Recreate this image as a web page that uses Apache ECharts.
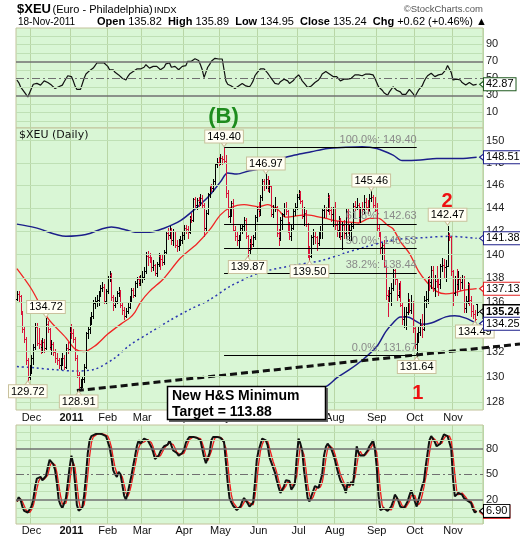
<!DOCTYPE html>
<html><head><meta charset="utf-8">
<script src="https://cdn.jsdelivr.net/npm/echarts@6/dist/echarts.min.js"></script>
<style>html,body{margin:0;padding:0;background:#fff}#c{width:520px;height:540px}</style>
</head><body><div id="c"></div>
<script>
// ---------- data ----------
const holidays = ['2010-11-25','2010-12-24','2011-01-17','2011-02-21','2011-04-22','2011-05-30','2011-07-04','2011-09-05'];
const monthNames = ['Jan','Feb','Mar','Apr','May','Jun','Jul','Aug','Sep','Oct','Nov','Dec'];
// daily [open, high, low, close], 18-Nov-2010 .. 18-Nov-2011
const ohlc = [
[136.3,136.9,136.2,136.7],[136.7,136.9,136.1,136.5],[136.5,136.6,135.0,135.2],[135.2,135.3,133.6,133.8],[133.8,134.0,132.8,133.0],
[133.0,133.2,131.0,131.3],[131.3,131.5,129.72,130.0],[130.0,130.9,129.8,130.6],[130.6,131.7,130.3,131.5],[131.5,132.6,131.0,132.4],
[132.4,134.3,132.2,134.0],[134.0,134.3,132.5,132.7],[132.7,133.9,132.3,132.6],[132.6,132.9,131.9,132.4],[132.4,133.1,132.0,132.8],
[132.8,133.0,132.0,132.3],[132.3,134.72,132.2,134.2],[134.2,134.5,133.6,133.8],[133.8,133.9,132.2,132.4],[132.4,132.9,131.8,132.6],
[132.6,132.8,131.7,132.0],[132.0,132.2,131.2,131.5],[131.5,131.9,131.0,131.3],[131.3,131.5,130.7,130.9],[130.9,131.5,130.6,131.2],
[131.2,131.9,130.9,131.5],[131.5,131.7,130.6,130.8],[130.8,132.6,130.7,132.3],[132.3,132.8,131.9,132.2],[132.2,134.0,132.1,133.8],
[133.6,134.2,133.1,133.5],[133.5,133.8,132.8,133.0],[133.0,133.2,131.3,131.5],[131.5,131.7,130.0,130.1],[130.1,130.4,128.91,129.2],
[129.2,129.8,129.0,129.5],[129.5,130.0,129.2,129.8],[129.8,131.0,129.6,130.8],[130.8,133.6,130.7,133.5],[133.5,134.0,133.1,133.8],
[133.8,134.8,133.5,134.6],[134.6,135.2,134.2,134.9],[134.9,136.2,134.7,135.9],[135.9,136.4,135.5,136.1],[136.1,136.6,135.7,136.2],
[136.2,136.9,135.8,136.8],[136.8,137.4,136.5,137.2],[137.2,137.7,136.9,137.3],[137.3,137.5,135.9,136.1],[136.1,137.1,135.9,136.9],
[136.9,138.2,136.8,138.0],[138.0,138.6,137.8,138.3],[138.3,138.4,136.2,136.4],[136.4,136.6,135.4,135.8],[135.8,136.4,135.6,136.1],
[136.1,136.9,135.9,136.8],[136.8,137.3,136.5,136.9],[136.9,137.0,135.6,135.8],[135.8,136.0,135.0,135.4],[135.4,135.6,134.6,134.9],
[134.9,135.5,134.8,135.3],[135.3,135.9,135.1,135.6],[135.6,136.5,135.5,136.3],[136.3,137.2,136.1,137.0],[137.0,137.2,136.4,136.6],
[136.6,137.8,136.5,137.6],[137.6,138.1,137.3,137.9],[137.9,138.2,137.4,137.6],[137.6,138.3,137.4,138.0],
[138.0,138.6,137.7,138.1],[138.1,138.9,137.9,138.6],[138.6,140.2,138.4,139.9],[139.9,140.3,139.1,139.8],[139.8,140.1,139.4,139.7],
[139.7,139.8,138.6,138.9],[138.9,139.5,138.7,139.1],[139.1,139.2,138.3,138.4],[138.4,139.4,138.2,139.2],[139.2,140.1,139.0,139.9],
[139.9,140.0,138.8,139.6],[139.6,140.0,139.1,139.4],[139.4,140.4,139.2,140.2],[140.2,141.9,140.0,141.8],[141.8,142.3,141.3,141.7],
[141.7,142.4,141.4,142.1],[142.1,142.3,140.9,141.2],[141.2,142.2,140.8,142.0],[142.0,142.0,140.6,140.8],[140.8,141.2,140.3,140.7],
[140.7,141.3,140.4,141.1],[141.1,141.6,140.8,141.2],[141.2,142.0,141.0,141.7],[141.7,142.5,141.3,142.3],[142.3,142.5,141.8,142.2],
[142.2,142.4,141.4,141.9],[141.9,143.3,141.8,143.1],[143.1,143.6,142.8,143.0],[143.0,144.9,142.9,144.8],[144.8,145.0,144.0,144.3],
[144.3,144.9,143.9,144.7],[144.7,145.0,144.2,144.5],[144.5,145.2,144.3,144.9],[144.9,145.1,144.0,144.3],[144.3,144.4,141.6,142.3],
[142.3,143.8,142.1,143.6],[143.6,145.3,143.5,145.2],[145.2,146.0,145.0,145.9],[145.9,146.1,145.5,145.8],[145.8,146.6,145.5,146.4],
[146.4,148.0,146.1,147.9],[147.9,148.4,147.6,148.1],[148.1,148.5,147.8,148.0],[148.0,148.8,147.9,148.4],[148.4,148.6,147.9,148.3],
[148.3,149.40,148.1,148.2],[148.2,148.7,145.0,145.3],[145.3,145.6,143.2,143.3],[143.3,143.9,142.8,143.7],[143.7,144.6,143.3,144.4],
[144.4,144.8,142.0,142.1],[142.1,142.4,141.2,141.6],[141.6,142.0,140.8,141.2],[141.2,141.7,140.6,141.5],[141.5,142.5,141.2,142.3],
[142.3,142.6,141.8,142.4],[142.4,143.2,142.0,143.0],[143.0,143.1,141.4,141.6],[141.6,141.7,139.87,140.4],[140.4,141.3,140.1,141.0],
[141.0,141.6,140.5,140.9],[140.9,141.7,140.7,141.5],[141.5,143.4,141.3,143.2],[143.2,144.1,142.9,143.9],
[143.9,144.5,143.3,143.7],[143.7,145.1,143.4,145.0],[145.0,146.6,144.7,146.4],[146.4,146.6,145.6,146.0],[146.0,146.97,145.8,146.6],
[146.6,146.8,145.5,145.8],[145.8,146.5,145.4,145.9],[145.9,146.0,143.3,143.5],[143.5,144.3,143.2,144.0],[144.0,145.0,143.7,144.1],
[144.1,144.2,141.6,141.8],[141.8,142.2,140.8,141.4],[141.4,143.2,141.2,143.0],[143.0,143.6,142.2,143.5],[143.5,144.4,143.3,144.0],
[144.0,144.5,143.5,143.7],[143.7,143.8,141.9,142.2],[142.2,142.8,141.3,141.6],[141.6,142.6,141.2,142.3],[142.3,143.9,142.2,143.7],
[143.7,144.4,143.4,144.1],[144.1,145.2,143.9,145.0],[145.0,145.6,144.8,145.3],[145.3,145.5,144.4,144.6],[144.6,144.7,143.1,143.3],
[143.3,144.1,142.5,143.6],[143.6,143.8,142.4,142.6],[142.6,142.7,139.8,140.0],[140.0,140.7,139.50,139.9],[139.9,141.7,139.8,141.5],
[141.5,142.2,140.9,141.6],[141.6,142.0,141.0,141.5],[141.5,141.6,140.4,141.0],[141.0,142.0,140.8,141.8],[141.8,142.4,141.4,142.0],
[142.0,144.0,141.4,143.8],[143.8,144.3,143.2,144.0],[144.0,144.1,143.2,143.8],[143.8,145.3,143.7,145.0],[145.0,145.1,143.5,143.8],
[143.8,144.1,142.9,143.5],[143.5,144.1,142.4,144.0],[144.0,144.5,142.2,142.5],[142.5,142.9,141.6,142.1],[142.1,143.3,141.5,143.0],
[143.0,143.1,141.3,141.6],[141.6,142.8,140.5,142.5],[142.5,143.0,141.4,141.8],[141.8,143.9,141.4,143.7],[143.7,143.9,141.8,142.0],
[142.0,142.6,141.2,142.1],[142.1,142.7,141.2,142.4],[142.4,144.4,142.3,144.2],[144.2,144.6,143.8,144.1],[144.1,144.9,143.9,144.3],
[144.3,144.4,142.9,143.2],[143.2,144.1,142.8,144.0],[144.0,144.5,143.5,143.9],[143.9,145.1,143.6,144.5],[144.5,144.9,143.9,144.1],
[144.1,144.7,143.6,144.0],[144.0,145.2,143.7,144.9],[144.9,145.46,144.6,145.0],[145.0,145.1,144.0,144.3],[144.3,145.0,143.7,143.8],
[143.8,144.4,142.1,142.3],[142.3,142.6,141.6,141.9],[141.9,142.0,140.0,140.6],[140.6,141.0,139.6,140.8],[140.8,141.2,138.9,139.0],
[139.0,139.1,136.3,136.6],[136.6,137.0,134.9,136.5],[136.5,137.3,136.1,136.8],[136.8,137.6,135.8,137.2],[137.2,138.8,137.0,138.7],
[138.7,138.8,137.5,137.9],[137.9,138.0,136.2,136.6],[136.6,137.6,136.4,137.0],[137.0,137.8,135.7,135.8],[135.8,135.9,134.2,134.6],
[134.6,135.6,134.0,134.9],[134.9,135.6,133.8,135.2],[135.2,136.8,135.0,136.0],[136.0,136.3,135.2,135.4],[135.4,136.6,135.1,136.0],
[136.0,136.1,133.6,133.9],[133.9,134.0,132.3,132.6],[132.6,133.5,131.64,133.4],[133.4,134.0,132.8,133.6],[133.6,134.6,133.3,134.1],
[134.1,135.0,133.2,133.8],[133.8,136.5,133.7,136.2],[136.2,136.9,135.6,136.3],[136.3,138.1,135.9,137.9],[137.9,138.2,137.0,137.7],
[137.7,139.0,137.2,138.7],[138.7,139.0,136.9,137.2],[137.2,138.3,136.5,137.8],[137.8,139.0,137.3,137.7],[137.7,138.0,136.6,137.5],
[137.5,139.2,137.2,139.0],[139.0,139.7,138.6,139.1],[139.1,139.6,138.0,138.9],[138.9,139.5,137.8,139.0],[139.0,142.47,139.0,141.7],
[141.7,141.8,141.2,141.5],[141.5,141.6,138.3,138.6],[138.6,138.7,135.8,136.8],[136.8,138.2,136.6,138.0],[138.0,138.8,136.6,137.5],
[137.5,138.6,137.1,137.9],[137.9,138.1,137.0,137.7],[137.7,138.3,137.2,138.0],[138.0,138.2,135.2,135.5],[135.5,136.5,135.2,136.1],
[136.1,137.7,135.9,137.5],[137.5,137.6,135.8,136.2],[136.2,136.5,134.9,135.3],[135.3,135.8,134.7,135.0],[135.0,135.4,134.49,134.62],
[135.82,135.89,134.95,135.24]
];
const rsi14 = [
48,45,40,37,34,31,28,29,38,43, 45,44,42,42,42,47,48,45,44,42, 41,38,39,40,41,42,46,48,53,55,
52,47,41,37,35.5,37,39,50,55,57, 59,60,62,65,68,69,68,66,68,70, 64,60,61,60,57,55,54,52,50,49,
48,52,55,56,58,60,61,62.5,61,59, 63,66,64,62,63,64,66,64,62,60, 58,63,67,69,68,63,62,64,63,60,
62,64,65,65,70,71,70,71,73,72, 71,66,60,51,57,63,66,70,72,73.5, 73,72.7,72.7,72.7,71.6,47,43,42,41,40,
38,40,41,43,44,42,41,40,40,43, 47,53,56,58,61,62,61,60,56,53, 50,47,44,43,43,46,48,49,50,47,
44,46,47,50,52,54,51,47,45,42, 39,38,41,42,45,47,48,51,55,57, 58,57,55,53,52,54,52,50,47,46,
49,50,49,47,50,52,54,54,54,53, 53,55,55,54,55,56,54,50,45,40, 38,36,33,31,30,34,37,40,38,36,
35,34,31,30,31,33,37,36,32,28, 32,36,38,41,46,50,53,55,56,54, 52,53,54,55,55,57,60,65,66,57,
48,48,49,50,48,45,43,42,44,45, 44,42,40,42.87
];
const stochK = [
18,23,20,12,7,5,5,6,12,20, 35,45,47,47,43,41,48,58,67,67, 62,55,40,20,14,10,16,22,40,58,
72,62,40,14,7,6,11,25,48,75, 90,95,97,97,98,98,98,97,96,95, 94,82,70,55,50,47,53,50,38,25,
20,28,38,48,60,71,83,90,86,86, 92,91,90,88,82,76,68,66,72,77, 80,83,85,85,90,88,78,76,75,72,
71,75,79,87,91,94,95,94,93,93, 92,90,80,70,63,65,75,90,94,95, 94,93,93,91,88,65,40,22,17,13,
11,8,10,12,18,22,20,16,12,14, 17,40,67,78,85,92,93,90,84,70, 64,62,52,43,35,28,28,36,43,43,
42,32,35,39,70,92,86,78,55,38, 22,18,20,30,36,35,34,35,50,72, 82,86,85,80,74,67,58,50,43,41,
35,28,40,37,41,37,60,83,75,72, 71,72,75,78,83,86,90,80,59,25, 8,9,10,9,7,6,12,18,26,23,
18,12,10,10,12,18,25,31,25,18, 12,12,28,36,42,60,75,90,95,95, 88,83,84,86,92,97,97,95,94,80,
45,24,25,28,30,26,22,20,19,18, 16,9,5,6.9
];
const stochD = [
18,20,21,18,13,8,6,5,8,13, 22,33,42,46,46,44,44,49,58,64, 65,61,52,38,25,15,13,16,26,40,
57,64,58,39,20,9,8,14,28,49, 71,87,94,96,97,98,98,98,97,96, 95,90,82,69,58,51,50,50,47,38,
28,24,29,38,49,60,71,81,86,87, 88,90,91,90,87,82,75,70,69,72, 76,80,83,84,87,88,85,81,76,74,
73,73,75,80,86,91,93,94,94,93, 93,92,87,80,71,66,68,77,86,93, 94,94,93,92,91,81,64,42,26,17,
14,11,10,10,13,17,20,19,16,14, 14,24,41,62,77,85,90,92,89,81, 73,65,59,52,43,35,30,31,36,41,
43,39,36,35,48,67,83,85,73,57, 38,26,20,23,29,34,35,35,40,52, 68,80,84,84,80,74,66,58,50,45,
40,35,34,35,39,38,46,60,73,77, 73,72,73,75,79,82,86,85,76,55, 31,14,9,9,9,7,8,12,19,22,
22,18,13,11,11,13,18,25,27,25, 18,14,17,25,35,46,59,75,87,93, 93,89,85,84,87,92,95,96,95,90,
73,50,31,26,28,28,26,23,20,19, 18,14,8,5.5
];
// overlays read at sample days: [dayIndex, value]
const sma50 = [[0,138.8],[8,137.1],[17,134.7],[27,133.1],[32,132.2],[37,132.0],[43,132.45],[50,133.4],[58,134.3],[62,134.7],[65,135.2],[68,136.0],[73,136.9],[81,138.0],[90,139.7],[99,140.9],[106,142.1],[112,143.4],[117,144.0],[125,144.3],[133,144.1],[138,144.3],[144,143.8],[148,143.2],[153,143.3],[159,143.4],[164,143.3],[170,143.1],[175,142.9],[181,142.8],[188,142.7],[194,143.1],[199,143.1],[204,142.5],[207,142.2],[211,141.1],[216,140.1],[221,138.6],[226,137.6],[231,136.9],[236,136.7],[241,136.8],[246,137.0],[253,137.13]];
const bbUpper = [[0,142.6],[10,142.3],[27,141.55],[38,141.7],[47,142.2],[52,142.35],[60,142.1],[65,141.9],[73,141.9],[81,142.25],[90,142.9],[99,144.05],[106,145.1],[112,146.3],[116,147.1],[121,147.0],[128,147.3],[135,147.5],[144,148.3],[153,148.7],[162,149.0],[171,149.3],[181,149.4],[190,149.45],[198,149.3],[207,148.7],[212,148.2],[222,148.25],[231,148.4],[244,148.4],[253,148.51]];
const bbMid = [[0,130.8],[10,130.7],[21,130.55],[32,130.45],[43,130.6],[54,131.5],[62,132.5],[73,133.5],[84,134.5],[95,135.4],[106,136.2],[117,137.3],[128,138.1],[134,138.5],[153,139.1],[168,139.5],[180,140.1],[191,140.6],[207,141.25],[225,141.45],[238,141.55],[253,141.38]];
const bbLower = [[0,119.0],[27,119.4],[54,120.7],[73,125.1],[90,126.4],[106,127.3],[121,127.6],[135,128.8],[153,129.0],[165,129.0],[171,129.3],[176,129.9],[183,130.55],[190,131.3],[198,132.4],[203,133.6],[207,134.3],[211,134.8],[215,134.8],[219,134.5],[223,134.2],[228,134.3],[236,134.8],[241,134.9],[247,134.7],[253,134.25]];
const fibLevels = [['100.0%',149.40],['61.8%',142.63],['50.0%',140.53],['38.2%',138.44],['0.0%',131.67]];
const fibSpan = [114, 220];
const hsLine = [[33,128.91],[256,132.28]];
const peakCallouts = [[16,134.72,'top'],[6,129.72,'bottom'],[34,128.91,'bottom'],[114,149.40,'top'],[127,139.87,'bottom'],[137,146.97,'top'],[161,139.50,'bottom'],[195,145.46,'top'],[237,142.47,'top'],[220,131.64,'bottom'],[252,134.49,'bottom']];
const priceTicks = [128,130,132,134,136,138,140,142,144,146,148,150];
const rsiTicks = [10,30,50,70,90];
const stochTicks = [20,50,80];
const mainLast = [[148.51,'#1c1f8a',false],[141.38,'#1c1f8a',false],[137.13,'#e02020',false],[135.24,'#000000',true],[134.25,'#1c1f8a',false]];
const rsiLast = 42.87, stochKLast = 6.90, stochDLast = 5.5;

// ---------- build ----------
const dates = [];
{ let d = new Date(Date.UTC(2010,10,18));
  while (dates.length < ohlc.length + 3) {
    const s = d.toISOString().slice(0,10), w = d.getUTCDay();
    if (w !== 0 && w !== 6 && holidays.indexOf(s) < 0) dates.push(s);
    d.setUTCDate(d.getUTCDate()+1);
  } }
const monthStart = new Set();
for (let i = 1; i < dates.length; i++) if (dates[i].slice(5,7) !== dates[i-1].slice(5,7)) monthStart.add(i);
const isMonth = (i) => monthStart.has(i);

const F = 'Liberation Sans, Arial, sans-serif';
const BG = '#d9f6d5', LGRID = '#bfe0b5', VGRID = '#b9d6a6', BORDER = '#c2c29a', DARK = '#707070';
const lastIdx = dates.length - 1;

const priceRows = ohlc.map((r,i) => [i, r[0], r[1], r[2], r[3], r[3] < (i>0 ? ohlc[i-1][3] : r[0]) ? 1 : 0]);

function xAxisFor(g, labels) {
  return { gridIndex:g, type:'category', data:dates, boundaryGap:true,
    axisLine:{show:false}, axisTick:{show:false},
    splitLine:{show:true, interval:(i)=>isMonth(i), lineStyle:{color:VGRID, width:1}},
    axisLabel: labels ? { show:true, interval:(i)=>isMonth(i), margin: labels, fontSize:11, color:'#111', fontFamily:F,
      formatter:(v)=>{ const m = +v.slice(5,7); return m===1 ? '{y|'+v.slice(0,4)+'}' : monthNames[m-1]; },
      rich:{y:{fontWeight:'bold', fontSize:11, color:'#111', fontFamily:F}} } : {show:false} };
}
function yAxisFor(g, type, min, max) {
  const a = { gridIndex:g, type:type, min:min, max:max, position:'right', axisLabel:{show:false},
    splitLine:{show:false}, axisLine:{show:false}, axisTick:{show:false}, scale:true };
  if (type === 'log') a.logBase = 10;
  return a;
}
function gridLines(light, dark, dashed, labels) {
  const data = [];
  light.forEach(v => data.push({yAxis:v, lineStyle:{color:LGRID, width:1, type:'solid'}, label:{show: labels.indexOf(v) >= 0}}));
  dark.forEach(v => data.push({yAxis:v, lineStyle:{color:DARK, width:1.5, type:'solid'}, label:{show: labels.indexOf(v) >= 0}}));
  dashed.forEach(v => data.push({yAxis:v, lineStyle:{color:DARK, width:1.2, type:[8,3,2,3]}, label:{show: labels.indexOf(v) >= 0}}));
  return { silent:true, symbol:['none','none'], animation:false,
    label:{position:'end', distance:3, color:'#222', fontSize:11, fontFamily:F, formatter:(p)=>String(p.value)}, data };
}
function lastCallout(v, txt, border, bold) {
  return { coord:[lastIdx, v], name:txt, symbol:'triangle', symbolSize:[8,5], symbolRotate:90, symbolOffset:[0,0],
    itemStyle:{color:'#fff', borderColor:border, borderWidth:1},
    label:{show:true, position:'right', distance:-1, formatter:'{b}', color:'#000', fontSize:11, fontFamily:F,
      fontWeight: bold ? 'bold' : 'normal', backgroundColor:'#fff', borderColor:border, borderWidth: bold ? 1.5 : 1, padding:[1,2,0,2]} };
}

const tenSteps = [0,10,20,30,40,50,60,70,80,90,100];
const option = {
  animation:false,
  backgroundColor:'#fff',
  grid:[
    {left:16, right:37, top:28, height:100, show:true, backgroundColor:BG, borderColor:BORDER, borderWidth:1},
    {left:16, right:37, top:128, height:282, show:true, backgroundColor:BG, borderColor:BORDER, borderWidth:1},
    {left:16, right:37, top:425, height:99, show:true, backgroundColor:BG, borderColor:BORDER, borderWidth:1}
  ],
  xAxis:[xAxisFor(0, 0), xAxisFor(1, 2), xAxisFor(2, 1)],
  yAxis:[yAxisFor(0,'value',-8.5,109.2), yAxisFor(1,'log',127.4,151.16), yAxisFor(2,'value',-8.5,108)],
  series:[
    // RSI panel
    {type:'line', xAxisIndex:0, yAxisIndex:0, data:[], clip:false, z:1,
      markLine: gridLines(tenSteps.filter(v=>[30,50,70].indexOf(v)<0), [30,70], [50], rsiTicks)},
    {type:'line', xAxisIndex:0, yAxisIndex:0, data:rsi14, symbol:'none', z:3,
      lineStyle:{color:'#111', width:1.2},
      markPoint:{animation:false, silent:true, data:[lastCallout(rsiLast, rsiLast.toFixed(2), '#1f5a1f', false)]}},
    // main panel grid & tick labels
    {type:'line', xAxisIndex:1, yAxisIndex:1, data:[], clip:false, z:1,
      markLine: gridLines(priceTicks, [], [], priceTicks)},
    // fibonacci lines
    {type:'line', xAxisIndex:1, yAxisIndex:1, data:[], clip:false, z:2,
      markLine:{silent:true, symbol:['none','none'], animation:false,
        lineStyle:{color:'#000', width:1, type:'solid'},
        label:{show:true, position:'insideEndTop', distance:[0,2], color:'#8a8a8a', fontSize:11, fontFamily:F},
        data: fibLevels.map(f => [{coord:[fibSpan[0], f[1]], label:{formatter: f[0]+': '+f[1].toFixed(2)}}, {coord:[fibSpan[1], f[1]]}])}},
    {type:'line', xAxisIndex:1, yAxisIndex:1, data:bbLower, symbol:'none', smooth:0.3, z:2, lineStyle:{color:'#1c1f8a', width:1.5}},
    {type:'line', xAxisIndex:1, yAxisIndex:1, data:bbUpper, symbol:'none', smooth:0.3, z:2, lineStyle:{color:'#1c1f8a', width:1.5}},
    {type:'line', xAxisIndex:1, yAxisIndex:1, data:bbMid, symbol:'none', smooth:0.3, z:2, lineStyle:{color:'#2a36b0', width:1.5, type:[2,3]}},
    {type:'line', xAxisIndex:1, yAxisIndex:1, data:sma50, symbol:'none', smooth:0.3, z:2, lineStyle:{color:'#f02424', width:1.3}},
    {id:'hs', type:'line', xAxisIndex:1, yAxisIndex:1, data:hsLine, symbol:'none', z:4, lineStyle:{color:'#111', width:3, type:[7,4]}},
    {type:'custom', xAxisIndex:1, yAxisIndex:1, z:3, data:priceRows, encode:{x:0, y:[1,2,3,4]},
      renderItem:function(params, api){
        const i = api.value(0);
        const ph = api.coord([i, api.value(2)]), pl = api.coord([i, api.value(3)]);
        const po = api.coord([i, api.value(1)]), pc = api.coord([i, api.value(4)]);
        const col = api.value(5) ? '#d8143a' : '#000';
        const x = Math.round(ph[0]) + 0.5;
        const yo = Math.round(po[1]) + 0.5, yc = Math.round(pc[1]) + 0.5;
        return {type:'group', children:[
          {type:'line', shape:{x1:x, y1:Math.round(ph[1]), x2:x, y2:Math.round(pl[1])+1}, style:{stroke:col, lineWidth:1}},
          {type:'line', shape:{x1:x-1.5, y1:yo, x2:x, y2:yo}, style:{stroke:col, lineWidth:1}},
          {type:'line', shape:{x1:x, y1:yc, x2:x+1.5, y2:yc}, style:{stroke:col, lineWidth:1}}
        ]};
      }},
    // callouts on the main panel
    {type:'line', xAxisIndex:1, yAxisIndex:1, data:[], clip:false, z:6,
      markPoint:{animation:false, silent:true,
        data: peakCallouts.map(p => ({coord:[p[0], p[1]], name:p[1].toFixed(2), symbol:'triangle', symbolSize:[7,5],
          symbolRotate: p[2]==='top' ? 180 : 0, symbolOffset:[0, p[2]==='top' ? -3 : 3],
          itemStyle:{color:'#fffff4', borderColor:'#c9c19c', borderWidth:1},
          label:{show:true, position:p[2], distance:-1, formatter:'{b}', color:'#000', fontSize:11, fontFamily:F,
            backgroundColor:'#fffff4', borderColor:'#c9c19c', borderWidth:1, padding:[1,2,0,2]}}))
          .concat(mainLast.map(m => lastCallout(m[0], m[0].toFixed(2), m[1], m[2])))}},
    // stochastic panel
    {type:'line', xAxisIndex:2, yAxisIndex:2, data:[], clip:false, z:1,
      markLine: gridLines(tenSteps.filter(v=>[20,50,80].indexOf(v)<0), [20,80], [50], stochTicks)},
    {type:'line', xAxisIndex:2, yAxisIndex:2, data:stochD, symbol:'none', z:3, lineStyle:{color:'#f01e1e', width:1.3},
      markPoint:{animation:false, silent:true, data:[lastCallout(stochDLast, stochDLast.toFixed(2), '#e02020', false)]}},
    {type:'line', xAxisIndex:2, yAxisIndex:2, data:stochK, symbol:'none', z:4, lineStyle:{color:'#111', width:2},
      markPoint:{animation:false, silent:true, data:[lastCallout(stochKLast, stochKLast.toFixed(2), '#000', false)]}}
  ]
};

const chart = echarts.init(document.getElementById('c'), null, {renderer:'canvas', width:520, height:540});
chart.setOption(option);

// graphics: header, annotations, extension of the H&S trendline beyond the plot
const p1 = chart.convertToPixel({seriesId:'hs'}, hsLine[0]);
const p2 = chart.convertToPixel({seriesId:'hs'}, hsLine[1]);
const slope = (p2[1]-p1[1])/(p2[0]-p1[0]);
const gx = 520;
const T = (x, y, text, font, fill, align) => ({type:'text', x:x, y:y, z:100,
  style:{text:text, font:font, fill:fill||'#000', align:align||'left', verticalAlign:'middle'}});
chart.setOption({graphic:[
  T(17, 9.5, '$XEU', 'bold 13px '+F),
  T(52.5, 10, '(Euro - Philadelphia)', '11px '+F),
  T(154, 10.5, 'INDX', '9.5px '+F),
  T(483, 9.5, '\u00a9StockCharts.com', '9.5px '+F, '#555', 'right'),
  T(18, 22, '18-Nov-2011', '10px '+F),
  {type:'text', x:97, y:22, z:100, style:{text:'{b|Open} 135.82  {b|High} 135.89  {b|Low} 134.95  {b|Close} 135.24  {b|Chg} +0.62 (+0.46%) \u25b2',
    font:'11px '+F, fill:'#000', verticalAlign:'middle', rich:{b:{font:'bold 11px '+F, fill:'#000'}}}},
  T(19, 135.5, '$XEU (Daily)', '11px DejaVu Sans, sans-serif', '#111'),
  T(223.5, 117, '(B)', 'bold 22px '+F, '#1e8c1e', 'center'),
  T(447, 201, '2', 'bold 20px '+F, '#ee1111', 'center'),
  T(417.7, 393.5, '1', 'bold 20px '+F, '#ee1111', 'center'),
  {type:'line', z:50, shape:{x1:p2[0], y1:p2[1], x2:gx, y2:p2[1] + slope*(gx-p2[0])},
    style:{stroke:'#111', lineWidth:3, lineDash:[7,4]}},
  {type:'rect', z:100, shape:{x:169, y:388, width:159, height:34}, style:{fill:'#666'}},
  {type:'rect', z:100, shape:{x:167.5, y:386.5, width:158, height:33}, style:{fill:'#fff', stroke:'#000', lineWidth:1.5}},
  T(172, 396, 'New H&S Minimum', 'bold 14px '+F),
  T(172, 412.5, 'Target = 113.88', 'bold 14px '+F)
]});
</script>
</body></html>
